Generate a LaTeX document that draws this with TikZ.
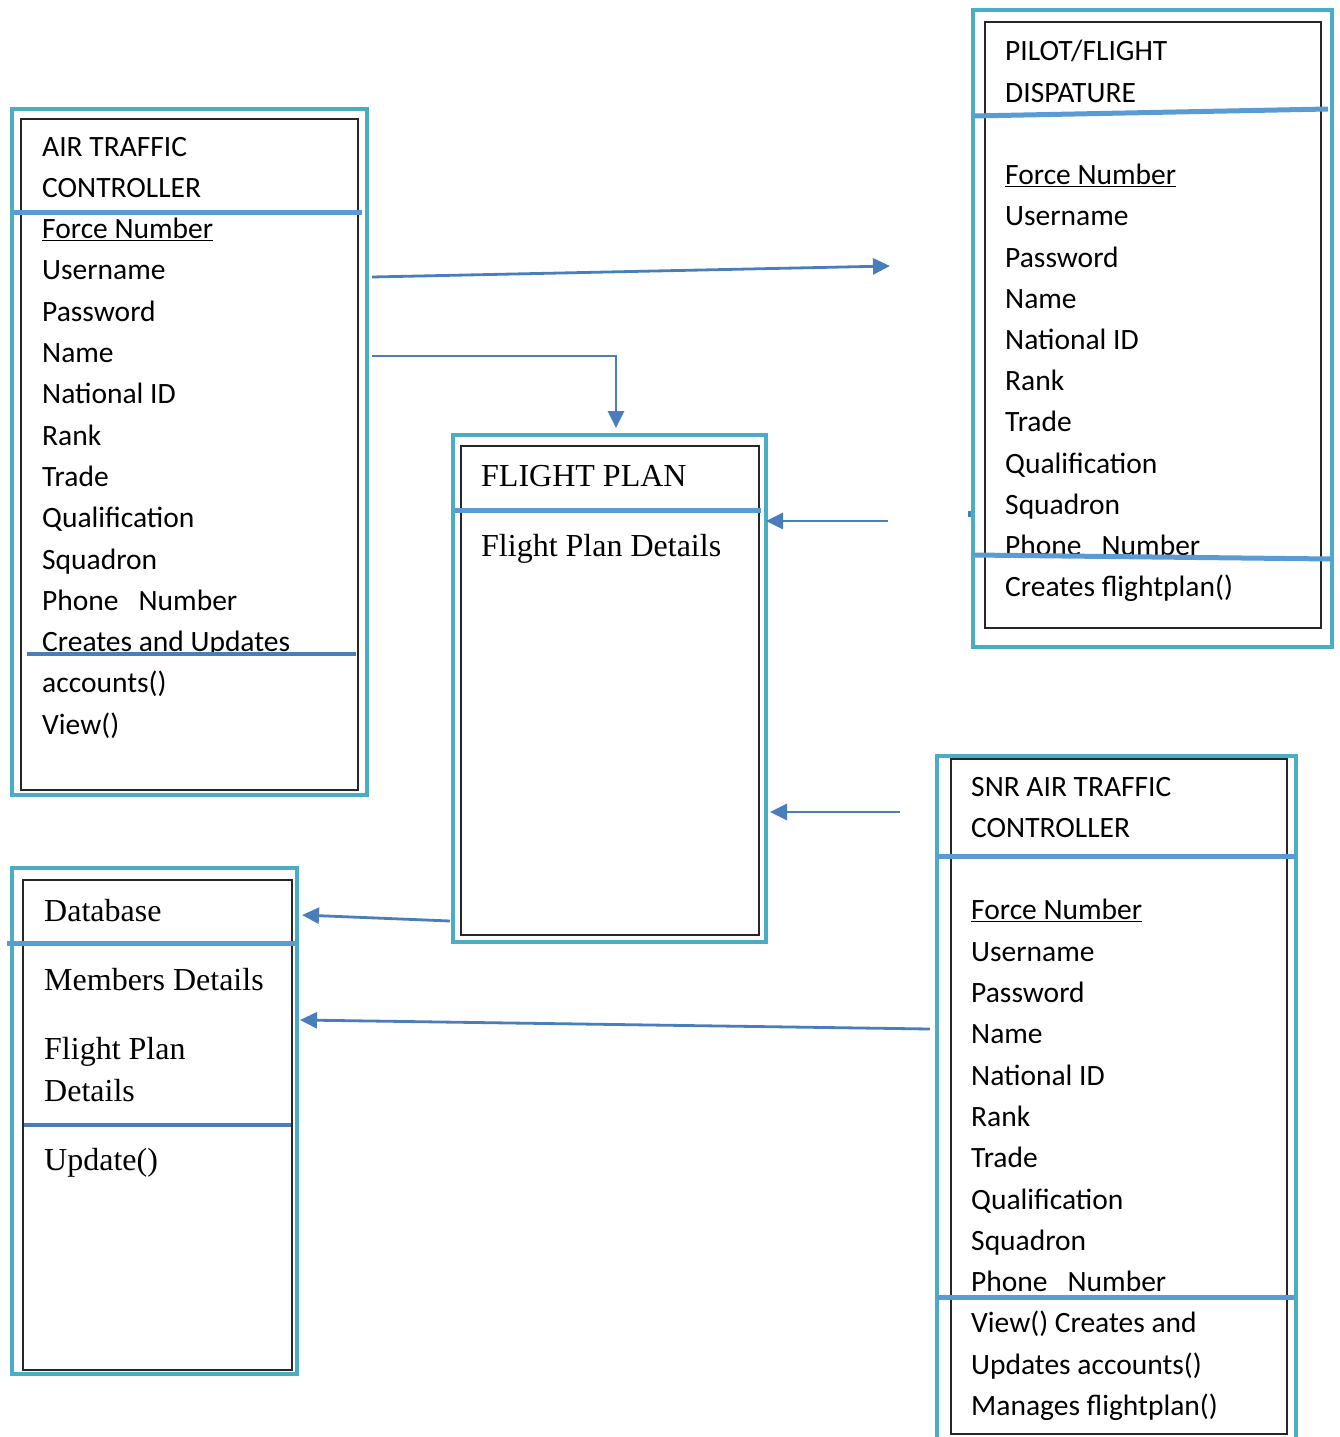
\documentclass[tikz,border=0pt]{standalone}
\usepackage{fontspec}
\setmainfont{Carlito}
\newfontfamily\timesfont{Liberation Serif}
\usetikzlibrary{arrows.meta}
\definecolor{framecyan}{HTML}{4BACC6}
\definecolor{rulebl}{HTML}{5B9BD5}
\definecolor{linkbl}{HTML}{4A7EBB}

\begin{document}
\begin{tikzpicture}[x=1pt,y=-1pt,
  outerbox/.style={draw=framecyan,line width=4.5pt,anchor=north west,inner sep=0pt,outer sep=0pt},
  innerbox/.style={draw=black!85,line width=1.3pt,anchor=north west,inner sep=0pt,outer sep=0pt},
  divider/.style={draw=rulebl,line width=5pt},
  divdark/.style={draw=linkbl,line width=3.5pt},
  link/.style={draw=linkbl,line width=2.8pt,-{Triangle[length=17pt,width=16pt]}},
  sanstext/.style={anchor=base west,inner sep=0pt,font=\fontsize{29.5}{35}\selectfont},
  serftext/.style={anchor=base west,inner sep=0pt,font=\timesfont\fontsize{32}{38}\selectfont},
]
\clip (0,0) rectangle (1340,1437);
\fill[white] (0,0) rectangle (1340,1437);

% ---- class frames ----
\node[outerbox,minimum width=355pt,minimum height=686pt] (atc) at (12,109) {};
\node[innerbox,minimum width=337pt,minimum height=671pt] (atcin) at (21,119) {};

\node[outerbox,minimum width=359pt,minimum height=637pt] (pilot) at (973,10) {};
\node[innerbox,minimum width=336pt,minimum height=606pt] (pilotin) at (985,22) {};

\node[outerbox,minimum width=313pt,minimum height=507pt] (plan) at (453,435) {};
\node[innerbox,minimum width=298pt,minimum height=489pt] (planin) at (461,446) {};

\node[outerbox,minimum width=285pt,minimum height=506pt] (db) at (12,868) {};
\node[innerbox,minimum width=269pt,minimum height=490pt] (dbin) at (23,880) {};

\node[outerbox,minimum width=359pt,minimum height=700pt] (snr) at (937,756) {};
\node[innerbox,minimum width=336pt,minimum height=675pt] (snrin) at (951,759) {};

% ---- air traffic controller ----
\foreach \t [count=\i from 0] in {AIR TRAFFIC, CONTROLLER, \underline{Force Number},
  Username, Password, Name, National ID, Rank, Trade, Qualification, Squadron,
  Phone~~~Number, Creates and Updates, accounts(), View()}
  \node[sanstext] (atc-\i) at (42,{156+41.3*\i}) {\t};

% ---- pilot / flight dispature ----
\node[sanstext] (pilot-0) at (1005,61) {PILOT/FLIGHT};
\node[sanstext] (pilot-1) at (1005,102.2) {DISPATURE};
\foreach \k/\t in {3/\underline{Force Number}, 4/Username, 5/Password, 6/Name,
  7/National ID, 8/Rank, 9/Trade, 10/Qualification, 11/Squadron,
  12/Phone~~~Number, 13/Creates flightplan()}
  \node[sanstext] (pilot-\k) at (1005,{61+41.2*\k}) {\t};

% ---- snr air traffic controller ----
\foreach \k/\t in {0/SNR AIR TRAFFIC, 1/CONTROLLER, 3/\underline{Force Number},
  4/Username, 5/Password, 6/Name, 7/National ID, 8/Rank, 9/Trade,
  10/Qualification, 11/Squadron, 12/Phone~~~Number, 13/View() Creates and,
  14/Updates accounts(), 15/Manages flightplan()}
  \node[sanstext] (snr-\k) at (971,{796+41.3*\k}) {\t};

% ---- flight plan ----
\node[serftext] (plan-0) at (481,486) {FLIGHT PLAN};
\node[serftext] (plan-1) at (481,556) {Flight Plan Details};

% ---- database ----
\node[serftext] (db-0) at (44,921) {Database};
\node[serftext] (db-1) at (44,990) {Members Details};
\node[serftext] (db-2) at (44,1059) {Flight Plan};
\node[serftext] (db-3) at (44,1101) {Details};
\node[serftext] (db-4) at (44,1170) {Update()};

% ---- compartment dividers ----
\draw[divider] (13,212) -- (362,212);
\draw[divdark] (27,654) -- (356,654);
\draw[divider] (973,116) -- (1328,109);
\draw[divider] (973,555) -- (1332,559);
\draw[divider] (455,510) -- (761,510);
\draw[divider] (7,943) -- (295,943);
\draw[divdark] (24,1125) -- (291,1125);
\draw[divider] (937,856) -- (1296,856);
\draw[divider] (937,1297) -- (1294,1297);
\draw[linkbl,line width=3pt] (969.5,511) -- (969.5,517);

% ---- associations ----
\coordinate (a1s) at (372,277);  \coordinate (a1e) at (890,266);
\coordinate (a2s) at (372,356);  \coordinate (a2e) at (616,428);
\coordinate (a3s) at (888,521);  \coordinate (a3e) at (766,521);
\coordinate (a4s) at (900,812);  \coordinate (a4e) at (770,812);
\coordinate (a5s) at (450,921);  \coordinate (a5e) at (302,915);
\coordinate (a6s) at (930,1029); \coordinate (a6e) at (300,1020);

\draw[link] (a1s) -- (a1e);
\draw[link] (a2s) -| (a2e);
\draw[link] (a3s) -- (a3e);
\draw[link] (a4s) -- (a4e);
\draw[link] (a5s) -- (a5e);
\draw[link] (a6s) -- (a6e);
\end{tikzpicture}
\end{document}
